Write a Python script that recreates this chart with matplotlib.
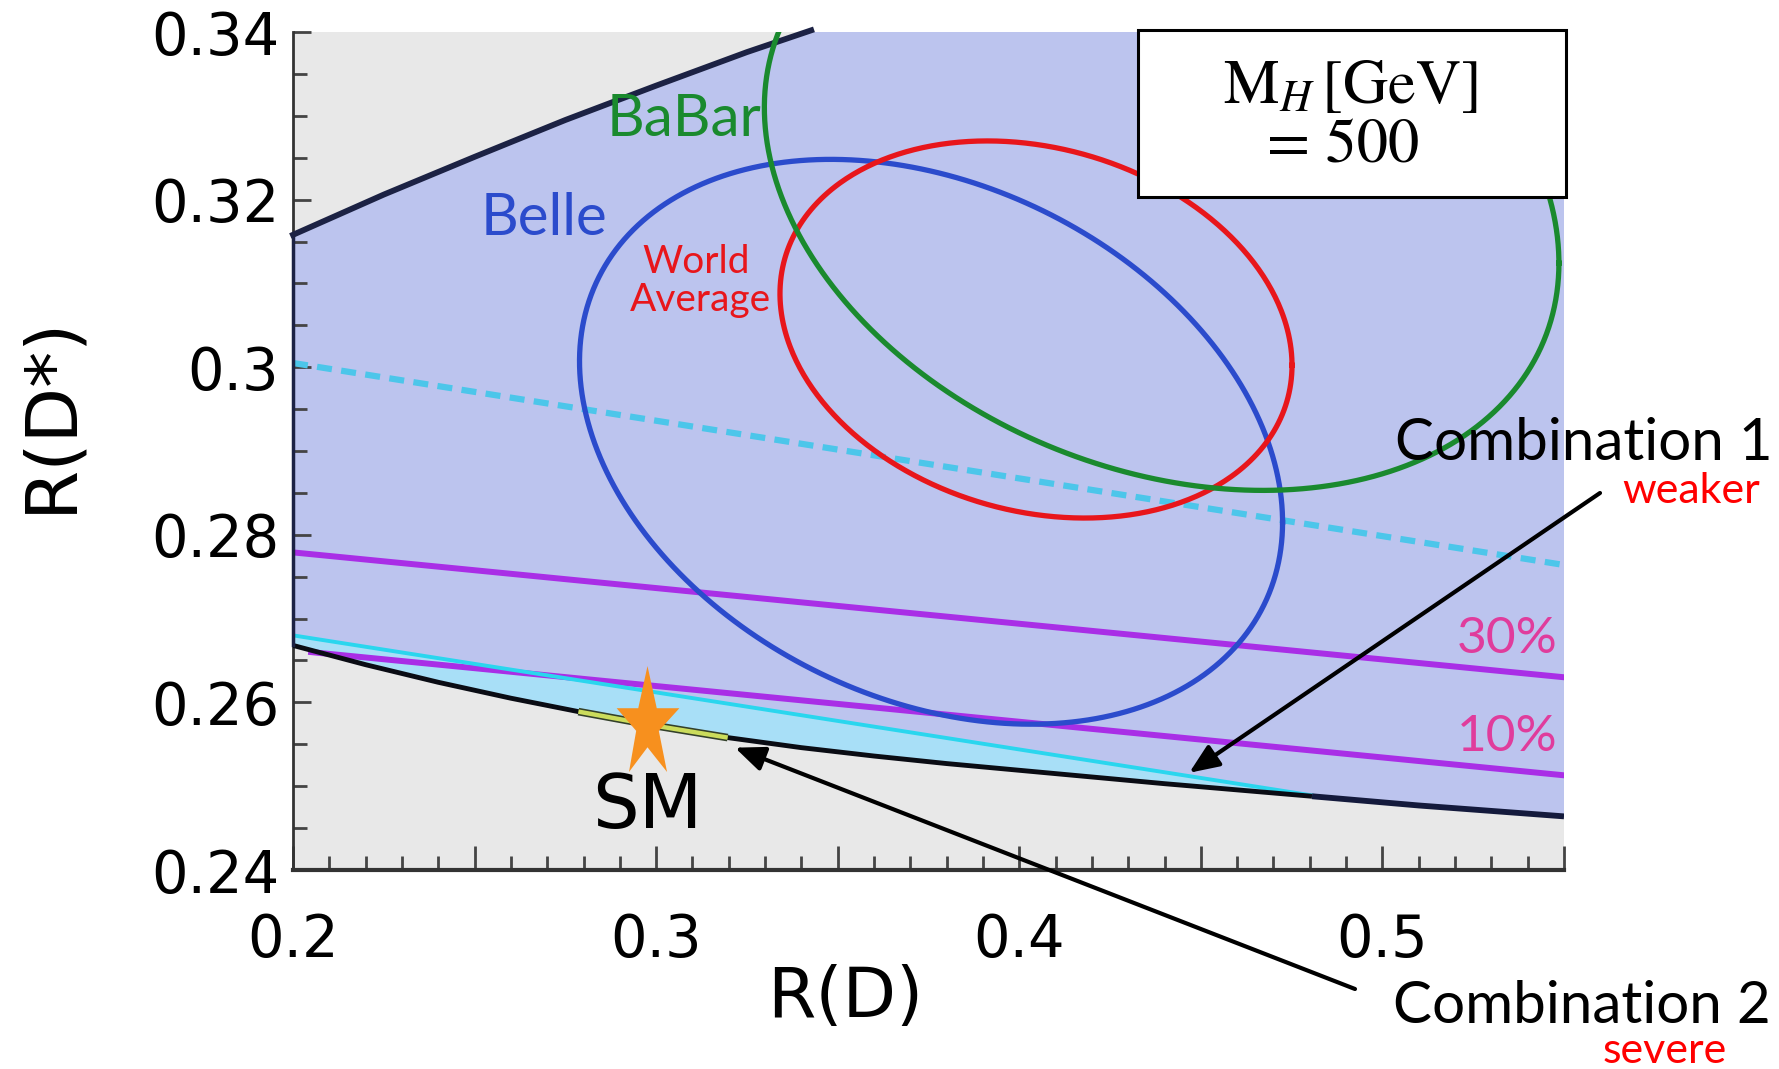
import numpy as np
import matplotlib
matplotlib.use("Agg")
import matplotlib.pyplot as plt
from matplotlib.path import Path
from matplotlib.patches import Rectangle
import matplotlib.patheffects as pe

plt.rcParams['font.family'] = ['DejaVu Sans']
plt.rcParams['mathtext.fontset'] = 'stix'

# allowed region for M_H = 500 GeV: upper / lower boundary in (R(D), R(D*))
upper_x = [0.2, 0.225, 0.25, 0.275, 0.3, 0.325, 0.3427]
upper_y = [0.3158, 0.3206, 0.3251, 0.3295, 0.3336, 0.3376, 0.3402]
lower_x = [0.2, 0.22, 0.24, 0.26, 0.2786, 0.3, 0.3197, 0.34, 0.36, 0.38, 0.4,
           0.44, 0.4806, 0.51, 0.55]
lower_y = [0.2668, 0.2645, 0.2624, 0.2605, 0.2589, 0.2572, 0.2558, 0.2546, 0.2536,
           0.2527, 0.2519, 0.2503, 0.2488, 0.2477, 0.2464]

# combination 1 band (upper edge), combination 2 segment on lower curve
band_x = [0.2, 0.4806]
band_y = [0.2680, 0.2489]
severe_x = [0.2786, 0.3, 0.3197]
severe_y = [0.2589, 0.2572, 0.2558]

# straight lines
dashed_x = [0.2, 0.55]
dashed_y = [0.3005, 0.2764]
line30_x = [0.2, 0.55]
line30_y = [0.2779, 0.2630]
line10_x = [0.205, 0.55]
line10_y = [0.2660, 0.2513]

# experiment contours: centre, half ranges, correlation-like shape factor
exp_names = ['Belle', 'World Average', 'BaBar']
exp_cx = [0.3757, 0.4046, 0.4392]
exp_cy = [0.2911, 0.3045, 0.3217]
exp_sx = [0.0968, 0.0705, 0.1094]
exp_sy = [0.0337, 0.0225, 0.0364]
exp_rho = [-0.285, -0.19, -0.255]
exp_colors = ['#2b4bcc', '#e8161b', '#1a8a2e']

# standard model point
sm_x = [0.2975]
sm_y = [0.2581]

# arrow targets
comb1_xy = (0.4468, 0.2516)
comb2_xy = (0.3217, 0.2546)

xticks = [0.2, 0.25, 0.3, 0.35, 0.4, 0.45, 0.5, 0.55]
xtick_labels = ['0.2', '', '0.3', '', '0.4', '', '0.5', '']
yticks = [0.24, 0.26, 0.28, 0.30, 0.32, 0.34]
ytick_labels = ['0.24', '0.26', '0.28', '0.3', '0.32', '0.34']

W, H = 1779, 1069


def fx(p):
    return p / W


def fy(p):
    return 1 - p / H


fig = plt.figure(figsize=(W / 100, H / 100), dpi=100)
ax = fig.add_axes([fx(293), fy(870), (1564 - 293) / W, (870 - 32) / H])
ax.set_xlim(0.2, 0.55)
ax.set_ylim(0.24, 0.34)
ax.set_facecolor('#e8e8e8')

# allowed (blue) region
poly_x = upper_x + [upper_x[-1], 0.56, 0.56] + lower_x[::-1]
poly_y = upper_y + [0.35, 0.35, lower_y[-1]] + lower_y[::-1]
ax.fill(poly_x, poly_y, color='#bcc4ee', lw=0, zorder=1)

# purple lines
ax.plot(line30_x, line30_y, color='#a92ee6', lw=4.3, zorder=3)
ax.plot(line10_x, line10_y, color='#a92ee6', lw=4.3, zorder=4.5)

# combination 1 band
bx = band_x + [x for x in lower_x[::-1] if x <= band_x[-1]]
by = band_y + [y for x, y in zip(lower_x[::-1], lower_y[::-1]) if x <= band_x[-1]]
ax.fill(bx, by, color='#a4e6fa', alpha=0.8, lw=0, zorder=4)
ax.plot(band_x, band_y, color='#2ad6ee', lw=2.8, zorder=5)

# boundaries
n_band = lower_x.index(band_x[-1])
ax.plot(lower_x[:n_band + 1], lower_y[:n_band + 1], color='#0a0c14', lw=3.5, zorder=6,
        solid_capstyle='butt')
ax.plot(lower_x[n_band:], lower_y[n_band:], color='#141a3c', lw=4.2, zorder=6,
        solid_capstyle='butt')
ax.plot(upper_x, upper_y, color='#1c2244', lw=4.2, zorder=6, clip_on=False)
ax.plot([upper_x[0], lower_x[0]], [upper_y[0], lower_y[0]], color='#1c2244',
        lw=2.5, zorder=6, clip_on=False)
ax.plot(severe_x, severe_y, color='#cbdc5c', lw=3.2, zorder=7, solid_capstyle='butt',
        path_effects=[pe.Stroke(linewidth=5.5, foreground='#33402a'), pe.Normal()])

# dashed line
ax.plot(dashed_x, dashed_y, color='#4cc6ea', lw=4.5, ls=(0, (2.4, 1.5)), zorder=3)

# experiment contours
t = np.linspace(0, 2 * np.pi, 500)
for cx, cy, sx, sy, rho, c in zip(exp_cx, exp_cy, exp_sx, exp_sy, exp_rho, exp_colors):
    ax.plot(cx + sx * np.cos(t), cy + sy * np.cos(t + np.arccos(rho)), color=c, lw=3.8, zorder=8)

# SM star
star = Path([(0, 51), (9, 10), (31, 10), (11, -12), (19, -52), (0, -28),
             (-18, -52), (-11, -12), (-30, 10), (-9, 10), (0, 51)])
ax.plot(sm_x, sm_y, ls='none', marker=star, ms=77, color='#f7901e', mec='none',
        zorder=9, clip_on=False)

# labels inside the plot
calib = ['Lato', 'DejaVu Sans']
ax.text(0.3077, 0.3296, 'BaBar', color=exp_colors[2], fontsize=42, family=calib,
        ha='center', va='center', zorder=10)
ax.text(0.2691, 0.3177, 'Belle', color=exp_colors[0], fontsize=42, family=calib,
        ha='center', va='center', zorder=10)
ax.text(0.3110, 0.3126, 'World', color=exp_colors[1], fontsize=28, family=calib,
        ha='center', va='center', zorder=10)
ax.text(0.3121, 0.3080, 'Average', color=exp_colors[1], fontsize=28, family=calib,
        ha='center', va='center', zorder=10)
ax.text(0.5343, 0.26757, '30%', color='#e03c9c', fontsize=37, family=calib,
        ha='center', va='center', zorder=10)
ax.text(0.5343, 0.25587, '10%', color='#e03c9c', fontsize=37, family=calib,
        ha='center', va='center', zorder=10)
ax.text(sm_x[0], 0.2474, 'SM', color='black', fontsize=53, ha='center', va='center', zorder=10)

# axes styling
ax.set_xticks(xticks, labels=xtick_labels)
ax.set_xticks(np.round(np.arange(0.2, 0.5501, 0.01), 3), minor=True)
ax.set_yticks(yticks, labels=ytick_labels)
ax.set_yticks(np.round(np.arange(0.24, 0.3401, 0.005), 3), minor=True)
ax.tick_params(which='both', direction='in', color='#444444', width=2)
ax.tick_params(axis='x', which='major', length=17, pad=30, labelsize=41.5)
ax.tick_params(axis='x', which='minor', length=10)
ax.tick_params(axis='y', which='major', length=13, pad=10, labelsize=41.5)
ax.tick_params(axis='y', which='minor', length=10)
for s in ['top', 'right']:
    ax.spines[s].set_visible(False)
ax.spines['left'].set_color('#333333')
ax.spines['left'].set_linewidth(2)
ax.spines['bottom'].set_color('#333333')
ax.spines['bottom'].set_linewidth(3)

fig.text(fx(51), fy(414), 'R(D*)', rotation=90, fontsize=52, ha='center', va='center')
fig.text(fx(845), fy(998), 'R(D)', fontsize=50, ha='center', va='center')

# M_H box
fig.add_artist(Rectangle((fx(1138), fy(197)), (1566 - 1138) / W, (197 - 30) / H,
                         transform=fig.transFigure, fc='white', ec='black', lw=2.2, zorder=20))
fig.text(fx(1350), fy(86), r'$\mathrm{M}_{H}\,[\mathrm{GeV}]$', fontsize=45,
         ha='center', va='center', zorder=21)
fig.text(fx(1343), fy(148), '= 500', family=['STIXGeneral', 'DejaVu Serif'], fontsize=45,
         ha='center', va='center', zorder=21)

# combination annotations
fig.text(fx(1395), fy(460), 'Combination 1', fontsize=42, family=calib,
         ha='left', va='baseline', zorder=21)
fig.text(fx(1691), fy(503), 'weaker', fontsize=31, family=calib, color='red',
         ha='center', va='baseline', zorder=21)
fig.text(fx(1393), fy(1023), 'Combination 2', fontsize=42, family=calib,
         ha='left', va='baseline', zorder=21)
fig.text(fx(1665), fy(1063), 'severe', fontsize=31, family=calib, color='red',
         ha='center', va='baseline', zorder=21)

arrow = dict(arrowstyle='-|>,head_length=0.6,head_width=0.25', color='black', lw=3,
             mutation_scale=30, shrinkA=0, shrinkB=0)
ax.annotate('', xy=comb1_xy, xycoords='data', xytext=(fx(1600), fy(493)),
            textcoords='figure fraction', arrowprops=arrow, annotation_clip=False, zorder=12)
ax.annotate('', xy=comb2_xy, xycoords='data', xytext=(fx(1355), fy(989)),
            textcoords='figure fraction', arrowprops=arrow, annotation_clip=False, zorder=12)

fig.savefig('out.png', dpi=100)
